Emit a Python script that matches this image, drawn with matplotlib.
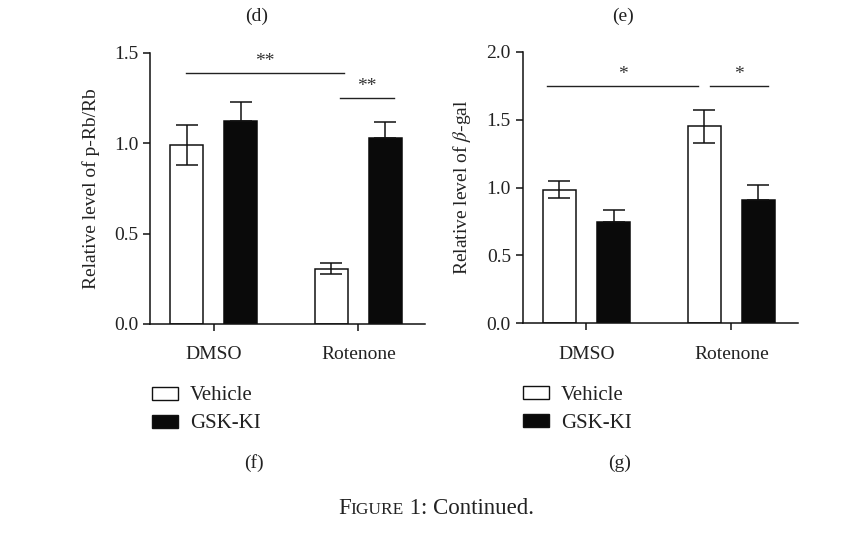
import matplotlib
matplotlib.use("Agg")
import matplotlib.pyplot as plt
import numpy as np
from matplotlib.patches import Rectangle

plt.rcParams['font.family'] = ['Liberation Serif', 'DejaVu Serif']
plt.rcParams['mathtext.fontset'] = 'stix'

# данные
groups = ['DMSO', 'Rotenone']
series = ['Vehicle', 'GSK-KI']

prb_vehicle = [0.99, 0.305]
prb_vehicle_err = [0.11, 0.03]
prb_gsk = [1.12, 1.03]
prb_gsk_err = [0.105, 0.085]

gal_vehicle = [0.985, 1.45]
gal_vehicle_err = [0.065, 0.12]
gal_gsk = [0.745, 0.905]
gal_gsk_err = [0.09, 0.115]

# значимость: (x0, x1, y, текст)
prb_sig = [(-0.19, 0.90, 1.385, '**'), (0.87, 1.245, 1.247, '**')]
gal_sig = [(-0.27, 0.77, 1.745, '*'), (0.855, 1.25, 1.745, '*')]

x = np.arange(len(groups))
w = 0.225
off = 0.187
fs = 14
col = '#222222'


def draw_panel(ax, veh, veh_err, gsk, gsk_err, ymax, yticks, ylabel, sig):
    ax.bar(x - off, veh, w, color='white', edgecolor='#111111', linewidth=1.1,
           yerr=veh_err, error_kw=dict(ecolor='#111111', elinewidth=1.1, capsize=8, capthick=1.1), zorder=2)
    ax.bar(x + off, gsk, w, color='#0a0a0a', edgecolor='#0a0a0a', linewidth=1.1,
           yerr=[[0, 0], gsk_err], error_kw=dict(ecolor='#111111', elinewidth=1.1, capsize=8, capthick=1.1), zorder=2)
    ax.set_xlim(-0.44, 1.46)
    ax.set_ylim(0, ymax)
    ax.set_yticks(yticks)
    ax.set_yticklabels(['%.1f' % t for t in yticks])
    ax.set_xticks(x)
    ax.set_xticklabels(groups)
    ax.spines['top'].set_visible(False)
    ax.spines['right'].set_visible(False)
    for s in ['left', 'bottom']:
        ax.spines[s].set_linewidth(1.1)
        ax.spines[s].set_color('#111111')
    ax.tick_params(axis='both', labelsize=fs, width=1.1, length=5, color='#111111', labelcolor=col)
    ax.tick_params(axis='x', pad=11)
    ax.set_ylabel(ylabel, fontsize=fs, color=col, labelpad=10)
    for x0, x1, y, t in sig:
        ax.plot([x0, x1], [y, y], color=col, lw=1.0, clip_on=False)
        ax.text((x0 + x1) / 2, y + ymax * 0.012, t, ha='center', va='bottom', fontsize=fs, color='#333333')


fig = plt.figure(figsize=(8.61, 5.4), dpi=100)
ax1 = fig.add_axes([150 / 861, 1 - 324 / 540, 275 / 861, 271.5 / 540])
ax2 = fig.add_axes([522.7 / 861, 1 - 323.3 / 540, 275.3 / 861, 271.6 / 540])

draw_panel(ax1, prb_vehicle, prb_vehicle_err, prb_gsk, prb_gsk_err, 1.5,
           [0.0, 0.5, 1.0, 1.5], 'Relative level of p-Rb/Rb', prb_sig)
draw_panel(ax2, gal_vehicle, gal_vehicle_err, gal_gsk, gal_gsk_err, 2.0,
           [0.0, 0.5, 1.0, 1.5, 2.0], r'Relative level of $\beta$-gal', gal_sig)

# легенды
for lx, ly in [(152, 387), (522.7, 386)]:
    for i, (lab, fc) in enumerate(zip(series, ['white', '#0a0a0a'])):
        y0 = ly + i * 28
        fig.patches.append(Rectangle((lx / 861, 1 - (y0 + 13) / 540), 26 / 861, 13 / 540,
                                     transform=fig.transFigure, facecolor=fc,
                                     edgecolor='#111111', linewidth=1.0))
        fig.text((lx + 38) / 861, 1 - (y0 + 9) / 540, lab, fontsize=15,
                 va='center', ha='left', color=col)

fig.text(257 / 861, 1 - 16 / 540, '(d)', ha='center', va='center', fontsize=fs, color=col)
fig.text(623 / 861, 1 - 16 / 540, '(e)', ha='center', va='center', fontsize=fs, color=col)
fig.text(254 / 861, 1 - 463 / 540, '(f)', ha='center', va='center', fontsize=fs, color=col)
fig.text(620 / 861, 1 - 463 / 540, '(g)', ha='center', va='center', fontsize=fs, color=col)

# "Figure 1: Continued." малыми капителями
fig.canvas.draw()
r = fig.canvas.get_renderer()
cy = 1 - 514 / 540
t1 = fig.text(338 / 861, cy, 'F', ha='left', va='baseline', fontsize=16.5, color=col)
bb = t1.get_window_extent(r)
t2 = fig.text(bb.x1 / 861, cy, 'IGURE', ha='left', va='baseline', fontsize=12.5, color=col)
bb = t2.get_window_extent(r)
fig.text(bb.x1 / 861, cy, ' 1: Continued.', ha='left', va='baseline', fontsize=16.5, color=col)

fig.savefig('out.png', dpi=100)
